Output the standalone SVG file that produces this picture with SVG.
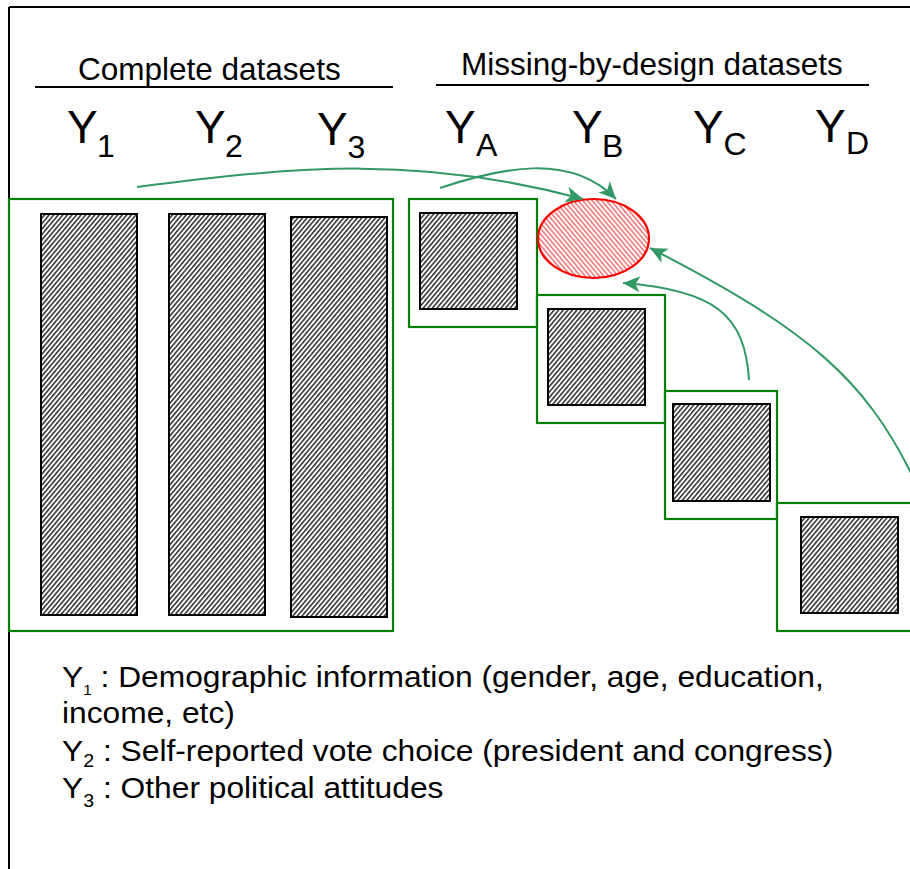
<svg xmlns="http://www.w3.org/2000/svg" width="910" height="869" viewBox="0 0 910 869">
  <defs>
    <pattern id="hatchDark" patternUnits="userSpaceOnUse" width="3.5" height="3.5" patternTransform="rotate(40)">
      <rect width="3.5" height="3.5" fill="#ffffff"/>
      <rect width="1.5" height="3.5" fill="#2a2a2a"/>
    </pattern>
    <pattern id="hatchRed" patternUnits="userSpaceOnUse" width="3.6" height="3.6" patternTransform="rotate(-40)">
      <rect width="3.6" height="3.6" fill="#ffffff"/>
      <rect width="1.5" height="3.6" fill="#f07070"/>
    </pattern>
    <marker id="arrowHead" markerUnits="userSpaceOnUse" markerWidth="20" markerHeight="16" refX="17" refY="8" orient="auto">
      <path d="M0,0 L17,8 L0,16 L4.5,8 Z" fill="#339966"/>
    </marker>
  </defs>
  <style>
    text { font-family: "Liberation Sans", Arial, sans-serif; fill: #000000; }
    .head { font-size: 31.5px; }
    .ylab { font-size: 46px; }
    .ysub { font-size: 32px; }
    .note { font-size: 29px; }
    .rule { stroke: #000000; stroke-width: 2; fill: none; }
    .box { fill: none; stroke: #008000; stroke-width: 2.2; }
    .data { fill: url(#hatchDark); stroke: #000000; stroke-width: 2; }
    .target { fill: url(#hatchRed); stroke: #ff0000; stroke-width: 2.2; }
    .link { fill: none; stroke: #339966; stroke-width: 2; marker-end: url(#arrowHead); }
  </style>

  <rect width="910" height="869" fill="#ffffff"/>

  <!-- outer frame: top and left edges -->
  <path class="rule" d="M9,7 H910 M9,7 V869"/>

  <!-- group headings -->
  <g id="heading-complete">
    <text class="head" x="78" y="80">Complete datasets</text>
    <line class="rule" x1="35" y1="87" x2="393" y2="87"/>
  </g>
  <g id="heading-missing">
    <text class="head" x="461" y="75">Missing-by-design datasets</text>
    <line class="rule" x1="436" y1="85" x2="869" y2="85"/>
  </g>

  <!-- variable labels -->
  <g id="labels">
    <text class="ylab" x="67" y="143">Y<tspan class="ysub" x="97" y="157">1</tspan></text>
    <text class="ylab" x="195" y="143">Y<tspan class="ysub" x="225" y="157">2</tspan></text>
    <text class="ylab" x="317" y="145">Y<tspan class="ysub" x="347.5" y="158">3</tspan></text>
    <text class="ylab" x="445" y="143">Y<tspan class="ysub" x="476" y="156">A</tspan></text>
    <text class="ylab" x="572" y="143">Y<tspan class="ysub" x="602" y="157">B</tspan></text>
    <text class="ylab" x="693" y="143">Y<tspan class="ysub" x="723.5" y="155">C</tspan></text>
    <text class="ylab" x="815" y="142">Y<tspan class="ysub" x="846" y="154">D</tspan></text>
  </g>

  <!-- complete block: Y1, Y2, Y3 -->
  <g id="complete-block">
    <rect class="box" x="9" y="199" width="384" height="432"/>
    <rect class="data" x="41" y="214" width="96" height="401"/>
    <rect class="data" x="169" y="214" width="96" height="401"/>
    <rect class="data" x="291" y="217" width="96" height="400"/>
  </g>

  <!-- missing-by-design blocks -->
  <g id="block-a">
    <rect class="box" x="409" y="199" width="128" height="128"/>
    <rect class="data" x="420" y="213" width="97" height="96"/>
  </g>
  <g id="block-b">
    <rect class="box" x="537" y="295" width="128" height="128"/>
    <rect class="data" x="548" y="309" width="97" height="96"/>
  </g>
  <g id="block-c">
    <rect class="box" x="665" y="391" width="112" height="128"/>
    <rect class="data" x="673" y="404" width="97" height="97"/>
  </g>
  <g id="block-d">
    <rect class="box" x="777" y="503" width="140" height="128"/>
    <rect class="data" x="801" y="517" width="97" height="96"/>
  </g>

  <!-- imputation target -->
  <g id="target-yb">
    <ellipse class="target" cx="593.5" cy="238.5" rx="55.5" ry="39.5"/>
  </g>

  <!-- connectors -->
  <g id="connectors">
    <path class="link" d="M137,187 C300,166 420,155 583,199"/>
    <path class="link" d="M440,188 C500,168 570,152 616,199"/>
    <path class="link" d="M749,380 C745,315 715,290 623,283"/>
    <path class="link" d="M912,475 C865,380 810,330 650,248"/>
  </g>

  <!-- legend, set slightly wide -->
  <g id="legend" transform="translate(62,0) scale(1.095,1) translate(-62,0)">
    <text class="note" x="62" y="687">Y<tspan font-size="14" dy="8">1</tspan><tspan dy="-8"> : Demographic information (gender, age, education,</tspan></text>
    <text class="note" x="62" y="723">income, etc)</text>
    <text class="note" x="62" y="761">Y<tspan font-size="18" dy="6">2</tspan><tspan dy="-6"> : Self-reported vote choice (president and congress)</tspan></text>
    <text class="note" x="62" y="798">Y<tspan font-size="18" dy="9">3</tspan><tspan dy="-9"> : Other political attitudes</tspan></text>
  </g>
</svg>
